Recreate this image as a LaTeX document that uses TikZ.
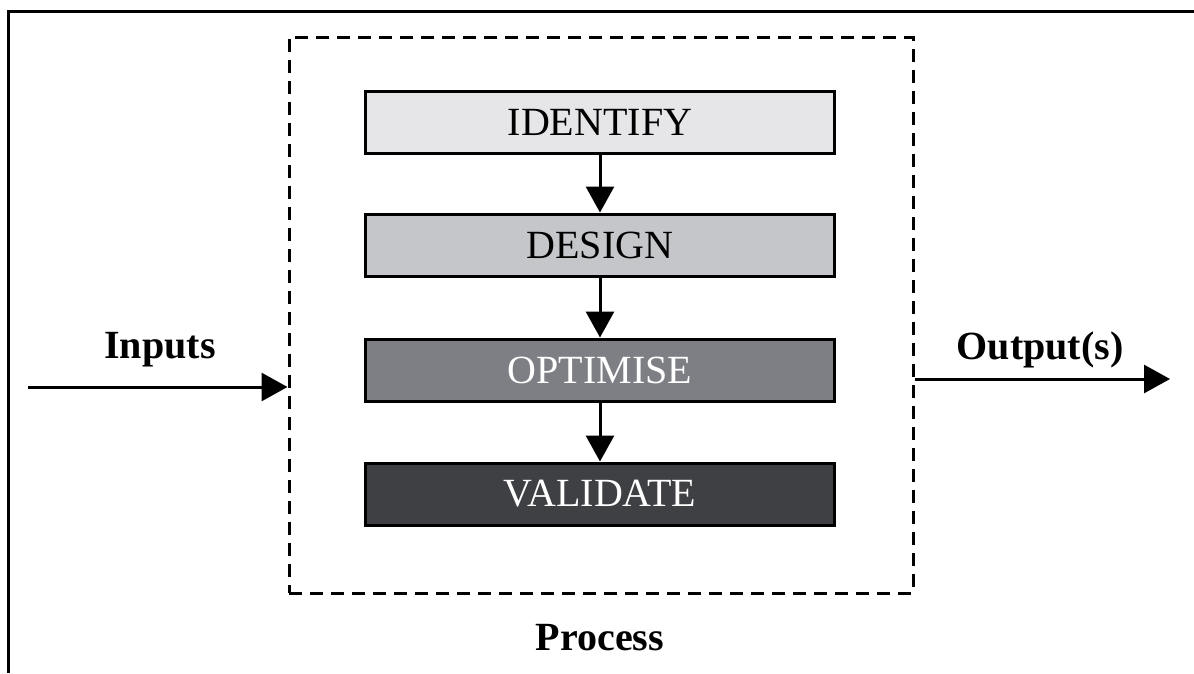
\documentclass[tikz,border=0pt]{standalone}
\usepackage{fontspec}
\setmainfont{Liberation Serif}
\usetikzlibrary{arrows.meta}
\definecolor{cIdent}{HTML}{E6E6E8}
\definecolor{cDesign}{HTML}{C5C6C9}
\definecolor{cOpt}{HTML}{7E7F84}
\definecolor{cVal}{HTML}{3F4044}
\begin{document}
\begin{tikzpicture}[x=1pt,y=-1pt,
  stepbox/.style={draw=black,line width=3pt,minimum width=469pt,minimum height=62pt,inner sep=0pt,font=\fontsize{40}{48}\selectfont},
  lbl/.style={font=\fontsize{40}{48}\selectfont\bfseries,inner sep=0pt},
  arr/.style={line width=3pt,-{Triangle[length=26pt,width=28pt]}},
  procbox/.style={draw=black,line width=3pt,dash pattern=on 13pt off 8pt,minimum width=624pt,minimum height=556pt,inner sep=0pt}]
\useasboundingbox (0,0) rectangle (1194,673);
\fill[white] (0,0) rectangle (1194,673);
% outer frame
\draw[line width=3pt] (8,673) -- (8,11) -- (1194,11);
% process frame
\node[procbox] (proc) at (601,315) {};
% steps
\node[stepbox,fill=cIdent] (id) at (600,122) {IDENTIFY};
\node[stepbox,fill=cDesign] (de) at (600,245) {DESIGN};
\node[stepbox,fill=cOpt,text=white] (op) at (600,370) {OPTIMISE};
\node[stepbox,fill=cVal,text=white] (va) at (600,494) {VALIDATE};
\draw[arr] (id.south) -- (de.north);
\draw[arr] (de.south) -- (op.north);
\draw[arr] (op.south) -- (va.north);
% inputs / outputs
\coordinate (inS) at (28,387);
\coordinate (outE) at (1170,379);
\draw[arr] (inS) -- (inS -| proc.west);
\draw[arr] (outE -| proc.east) -- (outE);
\node[lbl] (inL) at (160,350) {Inputs};
\node[lbl] (outL) at (1040,350) {Output(s)};
\node[lbl] (procL) at (600,638) {Process};
\end{tikzpicture}
\end{document}
